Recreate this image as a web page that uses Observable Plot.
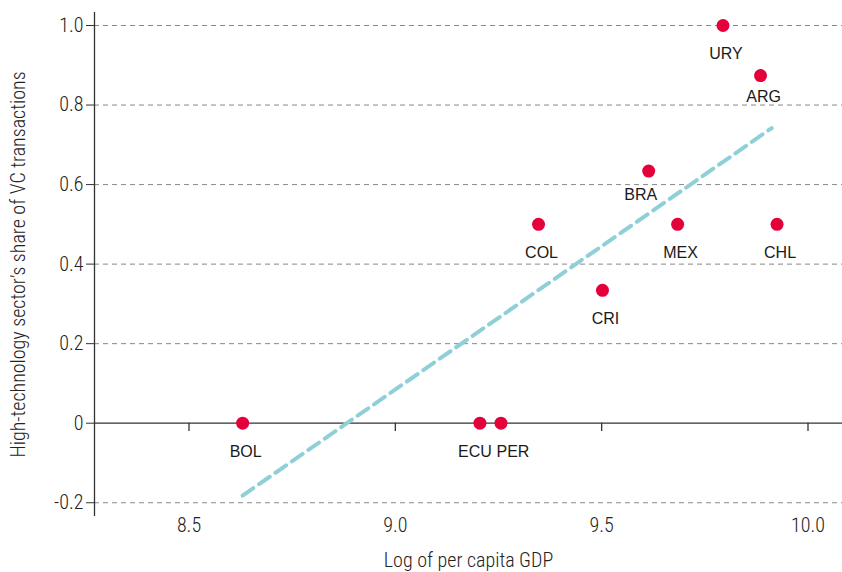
<!DOCTYPE html>
<html>
<head>
<meta charset="utf-8">
<script src="https://cdn.jsdelivr.net/npm/d3@7"></script>
<script src="https://cdn.jsdelivr.net/npm/@observablehq/plot@0.6"></script>
<style>
  html, body { margin: 0; padding: 0; background: #fff; }
  #chart { width: 842px; height: 572px; }
  #chart svg { font-stretch: condensed; font-weight: 300; }
</style>
</head>
<body>
<div id="chart"></div>
<script>
// Countries and values
const countries = ["URY", "ARG", "BRA", "COL", "MEX", "CHL", "CRI", "BOL", "ECU", "PER"];
const logGdp    = [9.794, 9.885, 9.614, 9.347, 9.684, 9.925, 9.502, 8.630, 9.205, 9.256];
const hiTechShare = [1.0, 0.874, 0.634, 0.5, 0.5, 0.5, 0.334, 0, 0, 0];

// Fitted line end points
const fitX = [8.630, 9.912];
const fitY = [-0.182, 0.742];

// Tick values
const xTicks = [8.5, 9.0, 9.5, 10.0];
const yTicks = [-0.2, 0, 0.2, 0.4, 0.6, 0.8, 1.0];
const yTickLabels = ["-0.2", "0", "0.2", "0.4", "0.6", "0.8", "1.0"];

const points = countries.map((c, i) => ({country: c, x: logGdp[i], y: hiTechShare[i]}));
const fit = fitX.map((x, i) => ({x, y: fitY[i]}));

// label nudges (style)
const nudge = {BRA: [-8, 24], ARG: [3, 21], URY: [3, 28], ECU: [-5, 29], PER: [12, 29]};
const lab = (dx, dy, filt) => Plot.text(points.filter(filt), {
  x: "x", y: "y", text: "country", dx, dy,
  fontFamily: "'Liberation Sans', Arial, sans-serif", fontSize: 16, fill: "#1a1a1a",
  style: {fontStretch: "normal", fontWeight: 400}
});

const cond = "Roboto, 'Roboto Condensed', sans-serif";

const plot = Plot.plot({
  width: 842,
  height: 572,
  marginLeft: 94,
  marginRight: 0,
  marginTop: 12,
  marginBottom: 56,
  style: {fontFamily: cond, fontSize: "19px", color: "#222", background: "#fff"},
  x: {domain: [8.271, 10.0836]},
  y: {domain: [-0.2346, 1.0327]},
  marks: [
    // dashed grid
    Plot.ruleY(yTicks.filter(d => d !== 0), {stroke: "#888", strokeWidth: 1, strokeDasharray: "5,4"}),
    // zero line (acts as x axis line)
    Plot.ruleY([0], {stroke: "#333", strokeWidth: 1.3}),
    // x tick marks hanging from the zero line
    Plot.ruleX(xTicks, {x: d => d, y1: 0, y2: -0.021, stroke: "#333", strokeWidth: 1.3}),
    // x tick labels at the bottom
    Plot.axisX({ticks: xTicks, tickSize: 0, tickPadding: 1, tickFormat: d3.format(".1f"),
      fontSize: 20, label: null}),
    Plot.text(["Log of per capita GDP"], {frameAnchor: "bottom", dy: 50, fontSize: 20, fill: "#222"}),
    // y axis
    Plot.axisY({ticks: yTicks, tickSize: 8, tickPadding: 3, stroke: "#333",
      tickFormat: d => yTickLabels[yTicks.indexOf(d)], fontSize: 20, label: null}),
    Plot.ruleX([8.271], {stroke: "#333", strokeWidth: 1.3}),
    Plot.text(["High-technology sector’s share of VC transactions"], {
      frameAnchor: "left", textAnchor: "middle", dx: -76, rotate: -90, fontSize: 20, fill: "#222"}),
    // fitted line
    Plot.line(fit, {x: "x", y: "y", stroke: "#8fd0d8", strokeWidth: 4, strokeDasharray: "13,7"}),
    // points
    Plot.dot(points, {x: "x", y: "y", r: 6.5, fill: "#e4003a", stroke: "none"}),
    lab(3, 29, d => !nudge[d.country]),
    ...Object.entries(nudge).map(([c, [dx, dy]]) => lab(dx, dy, d => d.country === c))
  ]
});
document.getElementById("chart").append(plot);
</script>
</body>
</html>
